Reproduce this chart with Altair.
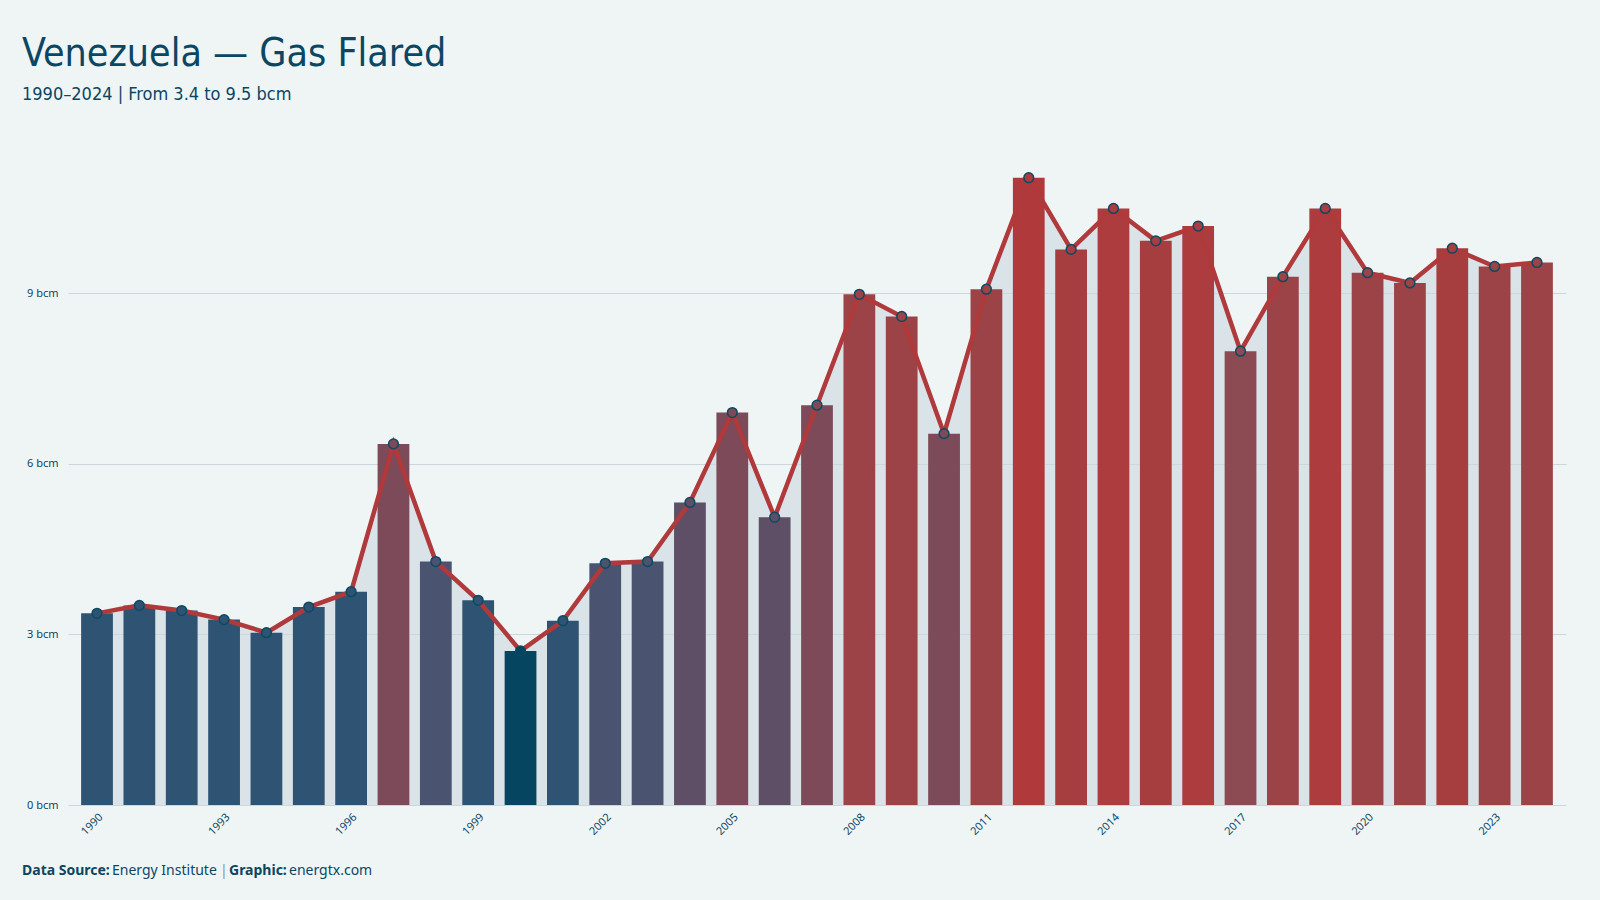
import altair as alt
import pandas as pd

# ---- data ----
years = list(range(1990, 2025))
values = [3.37, 3.51, 3.42, 3.26, 3.03, 3.48, 3.75, 6.35, 4.28, 3.60,
          2.71, 3.24, 4.25, 4.28, 5.32, 6.90, 5.06, 7.03, 8.98, 8.59,
          6.53, 9.07, 11.03, 9.77, 10.49, 9.92, 10.18, 7.98, 9.29, 10.49,
          9.36, 9.18, 9.79, 9.47, 9.54]
y_ticks = [0, 3, 6, 9]
x_label_years = [1990, 1993, 1996, 1999, 2002, 2005, 2008, 2011, 2014, 2017, 2020, 2023]

color_breaks = [2.9, 4.0, 5.0, 6.0, 7.5, 8.5, 9.6, 10.1, 10.8]
color_range = ["#05455f", "#2f5372", "#4a5470", "#5e4f66", "#7c4a58",
               "#8c4a52", "#9c4348", "#a63e40", "#ac3c3e", "#b0393b"]

df = pd.DataFrame({"year": years, "value": values})

DARK = "#0b4663"
BG = "#eff5f5"
W, H = 1498, 654
PLOT_LEFT, PLOT_TOP = 68, 151
TITLE_FONT = "DejaVu Sans Condensed, Liberation Sans Narrow, Roboto"

x_enc = alt.X("year:O",
              scale=alt.Scale(paddingInner=0.25, paddingOuter=0.31),
              axis=alt.Axis(values=x_label_years, labelAngle=-45, labelFontSize=11,
                            labelColor=DARK, labelFont="Noto Sans", ticks=False,
                            domain=False, grid=False, labelPadding=6, title=None))
y_scale = alt.Scale(domain=[0, 11.5], nice=False)
y_enc = alt.Y("value:Q", scale=y_scale,
              axis=alt.Axis(values=y_ticks, labelExpr="datum.value + ' bcm'",
                            labelFontSize=11, labelColor=DARK, labelFont="Noto Sans",
                            ticks=False, domain=False, grid=True, gridColor="#cdd7db",
                            gridWidth=1, labelPadding=10, title=None))
color_scale = alt.Scale(type="threshold", domain=color_breaks, range=color_range)

base = alt.Chart(df)

area = base.mark_area(color="#c9d7e0", opacity=0.6).encode(x=x_enc, y=y_enc)
bars = base.mark_bar().encode(
    x=x_enc, y=y_enc,
    color=alt.Color("value:Q", scale=color_scale, legend=None))
line = base.mark_line(color="#b0393b", strokeWidth=4.5).encode(x=x_enc, y=y_enc)
points = base.mark_circle(size=95, opacity=1, stroke="#0b4a63", strokeWidth=1.5).encode(
    x=x_enc, y=y_enc,
    color=alt.Color("value:Q", scale=color_scale, legend=None))

# footer
FOOT_Y = 875 - PLOT_TOP
footer_parts = [
    ("Data Source:", 22, "bold", DARK),
    ("Energy Institute", 112, "normal", DARK),
    ("|", 220, "normal", "#7d95a5"),
    ("Graphic:", 229, "bold", DARK),
    ("energtx.com", 289, "normal", DARK),
]
footer_layers = []
for txt, xpos, weight, col in footer_parts:
    footer_layers.append(
        alt.Chart(alt.Data(values=[{}])).mark_text(
            text=txt, align="left", baseline="alphabetic", fontSize=14,
            font="Noto Sans", fontWeight=weight, color=col
        ).encode(x=alt.value(xpos - PLOT_LEFT), y=alt.value(FOOT_Y))
    )

chart = alt.layer(area, bars, line, points, *footer_layers).properties(
    width=W, height=H,
    autosize=alt.AutoSizeParams(type="none"),
    padding={"left": PLOT_LEFT, "top": PLOT_TOP, "right": 1600 - PLOT_LEFT - W,
             "bottom": 900 - PLOT_TOP - H},
    background=BG,
    title=alt.TitleParams(
        text="Venezuela — Gas Flared",
        subtitle="1990–2024 | From 3.4 to 9.5 bcm",
        anchor="start", frame="group", dx=22 - PLOT_LEFT, offset=47,
        font=TITLE_FONT, fontSize=39, fontWeight="normal", color=DARK,
        subtitleFont=TITLE_FONT, subtitleFontSize=18, subtitleColor=DARK,
        subtitlePadding=12,
    ),
).configure_view(stroke=None)

chart.save("out.html", embed_options={"renderer": "svg", "actions": False})
